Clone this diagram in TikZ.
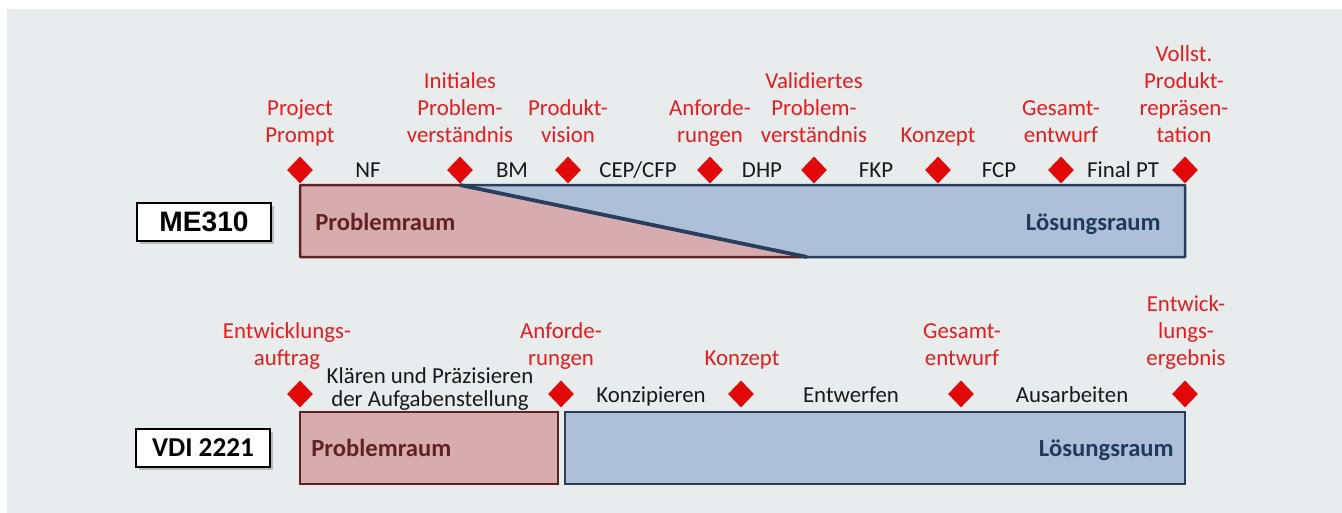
\documentclass[tikz,border=0pt]{standalone}
\usepackage{fontspec}
\setmainfont{Carlito}
\newfontfamily\tagfont{Liberation Sans}
\usetikzlibrary{shapes.geometric,shadows}

\definecolor{panel}{RGB}{233,236,237}
\definecolor{pbfill}{RGB}{214,172,174}
\definecolor{pbdraw}{RGB}{98,34,37}
\definecolor{lsfill}{RGB}{173,192,215}
\definecolor{lsdraw}{RGB}{40,62,92}
\definecolor{lstext}{RGB}{33,57,90}
\definecolor{msfill}{RGB}{226,8,8}
\definecolor{mstext}{RGB}{228,30,30}
\definecolor{phasetext}{RGB}{25,25,25}

\begin{document}
\begin{tikzpicture}[x=0.2mm, y=-0.2mm,
  every node/.style={font=\fontsize{13}{15.3}\selectfont},
  mstone/.style={diamond,fill=msfill,inner sep=0pt,minimum width=5.2mm,minimum height=5.4mm},
  mslabel/.style={anchor=south,align=center,inner sep=0pt,text=mstext,execute at end node=\strut},
  phase/.style={anchor=base,inner sep=0pt,text=phasetext},
  tag/.style={draw=black,line width=0.4mm,fill=white,minimum width=26.8mm,minimum height=7.6mm,
    drop shadow={shadow xshift=0.6mm,shadow yshift=-0.6mm,opacity=0.45}},
  space/.style={font=\fontsize{14}{16}\selectfont\bfseries,inner sep=0pt}]
% panel
\fill[white] (0,0) rectangle (1342,513);
\fill[panel] (7,9) rectangle (1342,513);
\useasboundingbox (0,0) rectangle (1342,513);

% ME310: problem space shrinks along the diagonal
\filldraw[fill=pbfill,draw=pbdraw,line width=0.5mm,line join=bevel] (300,185) -- (460,185) -- (807,257) -- (300,257) -- cycle;
\filldraw[fill=lsfill,draw=lsdraw,line width=0.5mm,line join=bevel] (460,185) -- (1185,185) -- (1185,257) -- (807,257) -- cycle;
\draw[lsdraw,line width=0.75mm] (460,185) -- (807,257);
\node[tag,font=\tagfont\fontsize{16}{19}\selectfont\bfseries] (me) at (204,222) {ME310};
\node[space,anchor=base west,text=pbdraw] (mepr) at (315,230) {Problemraum};
\node[space,anchor=base east,text=lstext] (mels) at (1161,230) {Lösungsraum};

\node[mstone] (pp) at (300,170) {};
\node[mstone] (ip) at (460,170) {};
\node[mstone] (pv) at (568,170) {};
\node[mstone] (af) at (710,170) {};
\node[mstone] (vp) at (814,170) {};
\node[mstone] (kz) at (938,170) {};
\node[mstone] (ge) at (1061,170) {};
\node[mstone] (vr) at (1185,170) {};

\node[mslabel] (ppl) at (300,151) {Project\\Prompt};
\node[mslabel] (ipl) at (460,151) {Initiales\\Problem-\\verständnis};
\node[mslabel] (pvl) at (568,151) {Produkt-\\vision};
\node[mslabel] (afl) at (710,151) {Anforde-\\rungen};
\node[mslabel] (vpl) at (814,151) {Validiertes\\Problem-\\verständnis};
\node[mslabel] (kzl) at (938,151) {Konzept};
\node[mslabel] (gel) at (1061,151) {Gesamt-\\entwurf};
\node[mslabel] (vrl) at (1184,151) {Vollst.\\Produkt-\\repräsen-\\tation};

\node[phase] (nf) at (368,177) {NF};
\node[phase] (bm) at (512,177) {BM};
\node[phase] (cep) at (638,177) {CEP/CFP};
\node[phase] (dhp) at (762,177) {DHP};
\node[phase] (fkp) at (876,177) {FKP};
\node[phase] (fcp) at (999,177) {FCP};
\node[phase] (fpt) at (1123,177) {Final PT};

% VDI 2221: fixed border between the two spaces
\filldraw[fill=pbfill,draw=pbdraw,line width=0.5mm] (300,412) rectangle (558,484);
\filldraw[fill=lsfill,draw=lsdraw,line width=0.5mm] (565,412) rectangle (1185,484);
\node[tag,font=\fontsize{15.5}{18}\selectfont\bfseries] (vdi) at (203,448) {VDI 2221};
\node[space,anchor=base west,text=pbdraw] (vdipr) at (311,456) {Problemraum};
\node[space,anchor=base east,text=lstext] (vdils) at (1174,456) {Lösungsraum};

\node[mstone] (ea) at (300,394) {};
\node[mstone] (af2) at (561,394) {};
\node[mstone] (kz2) at (741,394) {};
\node[mstone] (ge2) at (961,394) {};
\node[mstone] (er) at (1185,394) {};

\node[mslabel] (eal) at (287,374) {Entwicklungs-\\auftrag};
\node[mslabel] (af2l) at (561,374) {Anforde-\\rungen};
\node[mslabel] (kz2l) at (742,374) {Konzept};
\node[mslabel] (ge2l) at (962,374) {Gesamt-\\entwurf};
\node[mslabel] (erl) at (1186,374) {Entwick-\\lungs-\\ergebnis};

\node[inner sep=0pt,align=center,text=phasetext,font=\fontsize{13}{13.6}\selectfont] (kp) at (430,389) {Klären und Präzisieren\\der Aufgabenstellung};
\node[phase] (kzp) at (651,402) {Konzipieren};
\node[phase] (ent) at (851,402) {Entwerfen};
\node[phase] (aus) at (1072,402) {Ausarbeiten};
\end{tikzpicture}
\end{document}
